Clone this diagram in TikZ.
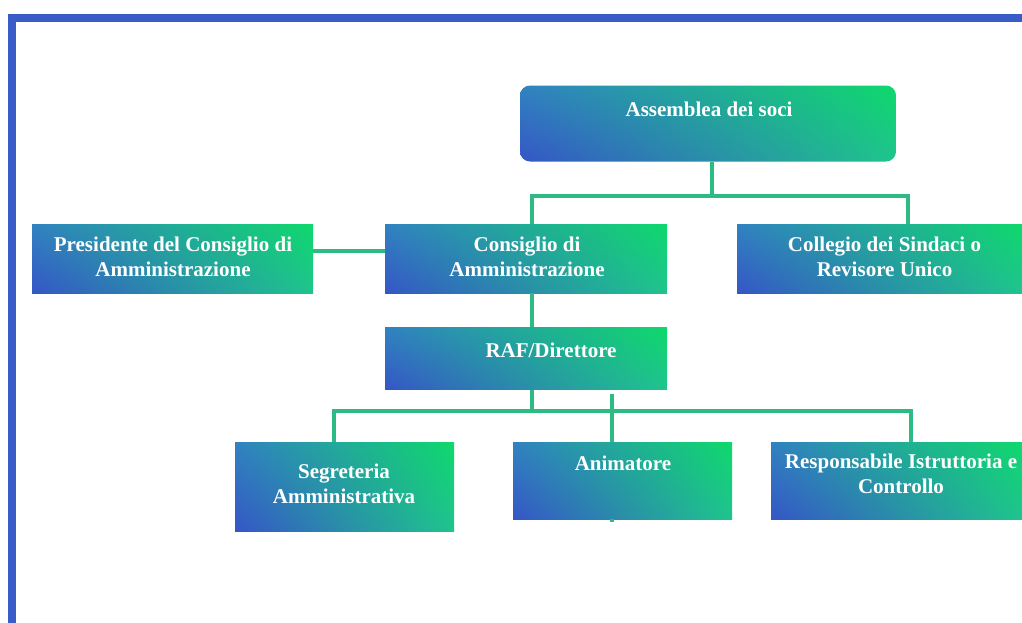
\documentclass[tikz,border=0pt]{standalone}
\usepackage{fontspec}
\setmainfont{Liberation Serif}
\usetikzlibrary{calc,shadings}
\definecolor{bordercol}{HTML}{3A5CC8}
\definecolor{linecol}{HTML}{2DBB84}
\definecolor{gblue}{HTML}{3556C6}
\definecolor{ggreen}{HTML}{0FD86C}
\definecolor{gul}{HTML}{3182C0}
\definecolor{glr}{HTML}{1FC48E}
\tikzset{
  box/.style={rectangle, inner sep=0pt, draw=none,
    lower left=gblue, upper right=ggreen, upper left=gul, lower right=glr},
  lbl/.style={text=white, font=\fontsize{21}{25}\selectfont\bfseries, align=center, inner sep=0pt, anchor=base},
  conn/.style={draw=linecol, line width=4pt}
}
\begin{document}
\begin{tikzpicture}[x=1pt,y=-1pt]
\useasboundingbox (0,0) rectangle (1022,622);
\fill[white] (0,0) rectangle (1022,622);
% frame
\draw[bordercol, line width=8pt] (12.3,640) -- (12.3,17.5) -- (1040,17.5);

% junction coordinates
\coordinate (j1) at (712,196);
\coordinate (jL) at (532,196);
\coordinate (jR) at (908,196);
\coordinate (pc) at (350,251);
\coordinate (k1) at (532,411);
\coordinate (kL) at (334,411);
\coordinate (kR) at (911,411);
\coordinate (kA) at (612,411);

% boxes
\path
  node[box, rounded corners=10pt, minimum width=376pt, minimum height=76pt] (ass) at (708,123.5) {}
  node[box, minimum width=281pt, minimum height=69pt] (pres) at (172.5,258.5) {}
  node[box, minimum width=282pt, minimum height=69pt] (cda) at (526,258.5) {}
  node[box, minimum width=285pt, minimum height=69pt] (col) at (879.5,258.5) {}
  node[box, minimum width=282pt, minimum height=62pt] (raf) at (526,358.5) {}
  node[box, minimum width=219pt, minimum height=89pt] (seg) at (344.5,486.5) {}
  node[box, minimum width=219pt, minimum height=77pt] (ani) at (622.5,480.5) {}
  node[box, minimum width=251pt, minimum height=77pt] (resp) at (896.5,480.5) {};

% connectors
\draw[conn] (ass.south -| j1) -- (j1);
\draw[conn] (cda.north -| jL) -- (jL) -- (jR) -- (col.north -| jR);
\draw[conn] (pres.east |- pc) -- (cda.west |- pc);
\draw[conn] (cda.south -| jL) -- (raf.north -| jL);
\draw[conn] (raf.south -| k1) -- (k1);
\draw[conn] (seg.north -| kL) -- (kL) -- (kR) -- (resp.north -| kR);
\draw[conn] ($(raf.south -| kA)+(0,4)$) -- (ani.north -| kA);
\draw[conn] (ani.south -| kA) -- ++(0,2.5);

% labels (anchor=base is the baseline of the last line)
\node[lbl] (tass) at (709,116) {Assemblea dei soci};
\node[lbl] (tpres) at (173,276) {Presidente del Consiglio di\\Amministrazione};
\node[lbl] (tcda) at (527,276) {Consiglio di\\Amministrazione};
\node[lbl] (tcol) at (884.5,276) {Collegio dei Sindaci o\\Revisore Unico};
\node[lbl] (traf) at (551,357) {RAF/Direttore};
\node[lbl] (tseg) at (344,503.5) {Segreteria\\Amministrativa};
\node[lbl] (tani) at (623,470.5) {Animatore};
\node[lbl] (tresp) at (901,493) {Responsabile Istruttoria e\\Controllo};
\end{tikzpicture}
\end{document}
